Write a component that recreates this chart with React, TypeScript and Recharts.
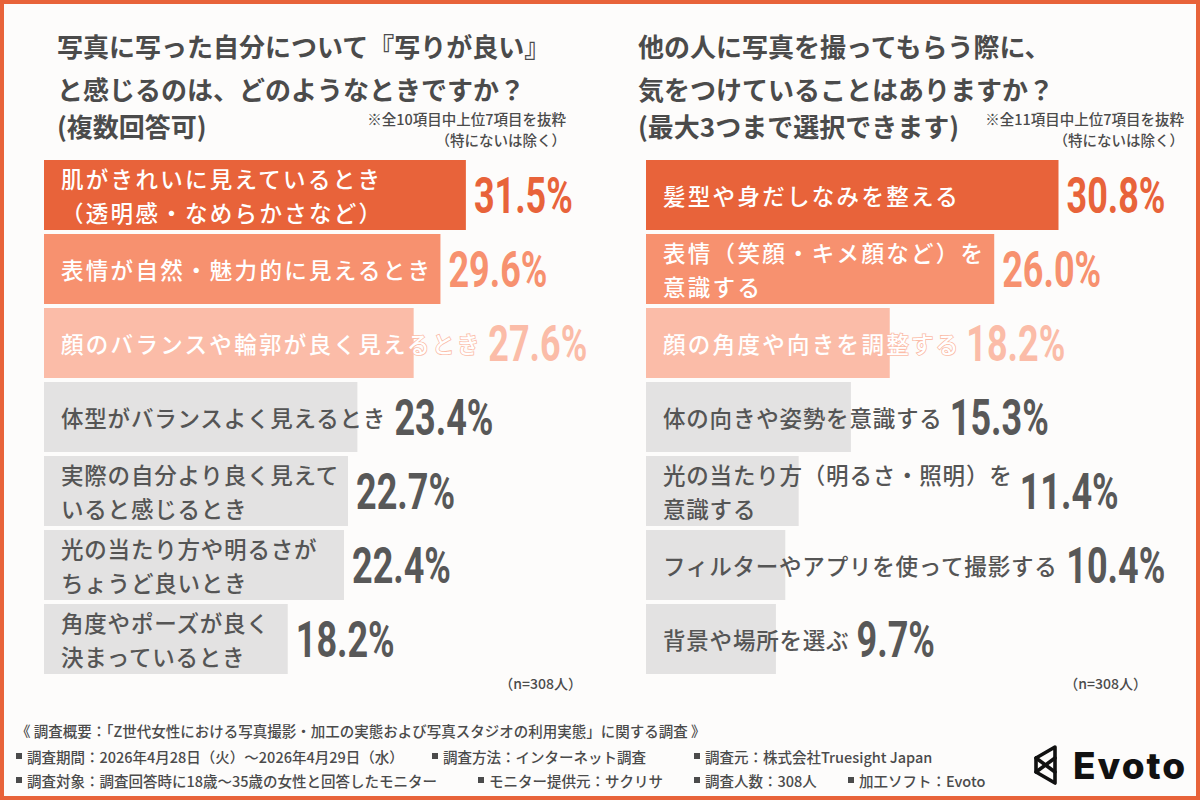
import React from 'react';
import { BarChart, Bar, XAxis, YAxis } from 'recharts';

// ---- survey data -------------------------------------------------------
const leftItems = [
  '肌がきれいに見えているとき\n（透明感・なめらかさなど）',
  '表情が自然・魅力的に見えるとき',
  '顔のバランスや輪郭が良く見えるとき',
  '体型がバランスよく見えるとき',
  '実際の自分より良く見えて\nいると感じるとき',
  '光の当たり方や明るさが\nちょうど良いとき',
  '角度やポーズが良く\n決まっているとき',
];
const leftValues = [31.5, 29.6, 27.6, 23.4, 22.7, 22.4, 18.2];

const rightItems = [
  '髪型や身だしなみを整える',
  '表情（笑顔・キメ顔など）を\n意識する',
  '顔の角度や向きを調整する',
  '体の向きや姿勢を意識する',
  '光の当たり方（明るさ・照明）を\n意識する',
  'フィルターやアプリを使って撮影する',
  '背景や場所を選ぶ',
];
const rightValues = [30.8, 26.0, 18.2, 15.3, 11.4, 10.4, 9.7];

const leftTitle = [
  '写真に写った自分について『写りが良い』',
  'と感じるのは、どのようなときですか？',
  '(複数回答可)',
];
const rightTitle = [
  '他の人に写真を撮ってもらう際に、',
  '気をつけていることはありますか？',
  '(最大3つまで選択できます)',
];
const leftNote = ['※全10項目中上位7項目を抜粋', '（特にないは除く）'];
const rightNote = ['※全11項目中上位7項目を抜粋', '（特にないは除く）'];
const sampleNote = '（n=308人）';

const footerHead = '《 調査概要：「Z世代女性における写真撮影・加工の実態および写真スタジオの利用実態」に関する調査 》';
const footerRow1 = [
  '調査期間：2026年4月28日（火）〜2026年4月29日（水）',
  '調査方法：インターネット調査',
  '調査元：株式会社Truesight Japan',
];
const footerRow2 = [
  '調査対象：調査回答時に18歳〜35歳の女性と回答したモニター',
  'モニター提供元：サクリサ',
  '調査人数：308人',
  '加工ソフト：Evoto',
];
const brandName = 'Evoto';

// ---- styling -----------------------------------------------------------
const ACCENT = '#E8633A';
const rankTones = ['#E8633A', '#F7916F', '#FBBCA8'];
const GREY_BAR = '#E3E2E2';
const INK = '#4B4B4B';
const JP = '"Noto Sans CJK JP", "Noto Sans", sans-serif';
const NUM = 'Roboto, "DejaVu Sans", sans-serif';

const AXIS_MAX = 44.8;
const CHART_W = 600;
const CHART_H = 518;
const BAR_H = 70;

const NAME_SIZE = 22.5;

type Row = { name: string; value: number };

const toRows = (names: string[], values: number[]): Row[] =>
  names.map((name, i) => ({ name, value: values[i] }));

function RowShape(props: any) {
  const { x, y, width, height, index, payload } = props;
  const ranked = index < rankTones.length;
  const tone = ranked ? rankTones[index] : GREY_BAR;
  const spacing = ranked ? 2.3 : 0.8;
  const lines: string[] = String(payload.name).split('\n');
  const tx = x + 17;
  const cy = y + height / 2;
  const lineGap = 34;
  const longest = Math.max(...lines.map((l) => l.length));
  const textEnd = tx + longest * (NAME_SIZE + spacing) - spacing;
  const valueX = Math.max(x + width, textEnd) + 8;
  return (
    <g>
      <rect x={x} y={y} width={width} height={height} fill={tone} />
      {lines.map((line, i) => (
        <text
          key={i}
          x={tx}
          y={cy + (i - (lines.length - 1) / 2) * lineGap}
          dominantBaseline="central"
          fontFamily={JP}
          fontWeight={500}
          fontSize={NAME_SIZE}
          letterSpacing={spacing}
          fill={ranked ? '#FFFFFF' : '#555555'}
          stroke={ranked ? tone : 'none'}
          strokeWidth={ranked ? 1.6 : 0}
          paintOrder="stroke"
        >
          {line}
        </text>
      ))}
      <text
        transform={`translate(${valueX},${cy + 1}) scale(0.72,1)`}
        x={0}
        y={0}
        dominantBaseline="central"
        fontFamily={NUM}
        fontWeight={700}
        fontSize={50}
        fill={ranked ? tone : '#585858'}
      >
        {`${payload.value.toFixed(1)}%`}
      </text>
    </g>
  );
}

function RankingChart({ rows }: { rows: Row[] }) {
  return (
    <BarChart
      layout="vertical"
      width={CHART_W}
      height={CHART_H}
      data={rows}
      margin={{ top: 0, right: 0, bottom: 0, left: 0 }}
    >
      <XAxis type="number" domain={[0, AXIS_MAX]} hide />
      <YAxis type="category" dataKey="name" hide />
      <Bar dataKey="value" barSize={BAR_H} isAnimationActive={false} shape={RowShape} />
    </BarChart>
  );
}

function TitleBlock({ x, lines }: { x: number; lines: string[] }) {
  const ys = [45, 88, 125];
  return (
    <g>
      {lines.map((t, i) => (
        <text
          key={i}
          x={x}
          y={ys[i]}
          dominantBaseline="central"
          fontFamily={JP}
          fontWeight={700}
          fontSize={26}
          fill={INK}
        >
          {t}
        </text>
      ))}
    </g>
  );
}

function NoteBlock({ right, lines }: { right: number; lines: string[] }) {
  const ys = [118, 139];
  return (
    <g>
      {lines.map((t, i) => (
        <text
          key={i}
          x={right}
          y={ys[i]}
          textAnchor="end"
          dominantBaseline="central"
          fontFamily={JP}
          fontWeight={500}
          fontSize={14.5}
          fill={INK}
        >
          {t}
        </text>
      ))}
    </g>
  );
}

function FooterItem({ x, y, text }: { x: number; y: number; text: string }) {
  return (
    <g>
      <rect x={x} y={y - 3} width={6} height={6} fill={INK} />
      <text
        x={x + 11}
        y={y}
        dominantBaseline="central"
        fontFamily={JP}
        fontWeight={500}
        fontSize={14.5}
        fill={INK}
      >
        {text}
      </text>
    </g>
  );
}

export default function App() {
  const row1X = [16, 432, 694];
  const row2X = [16, 478, 694, 848];
  return (
    <div
      style={{
        position: 'absolute',
        left: 0,
        top: 0,
        width: 1200,
        height: 800,
        overflow: 'hidden',
        background: '#FDFCFB',
      }}
    >
      <svg width={1200} height={800} style={{ position: 'absolute', left: 0, top: 0 }}>
        <TitleBlock x={57} lines={leftTitle} />
        <TitleBlock x={638} lines={rightTitle} />
        <NoteBlock right={566} lines={leftNote} />
        <NoteBlock right={1184} lines={rightNote} />

        <text x={582} y={683} textAnchor="end" dominantBaseline="central" fontFamily={JP} fontWeight={500} fontSize={14} fill={INK}>
          {sampleNote}
        </text>
        <text x={1147} y={683} textAnchor="end" dominantBaseline="central" fontFamily={JP} fontWeight={500} fontSize={14} fill={INK}>
          {sampleNote}
        </text>

        <text x={16} y={730} dominantBaseline="central" fontFamily={JP} fontWeight={500} fontSize={14.5} fill={INK}>
          {footerHead}
        </text>
        {footerRow1.map((t, i) => (
          <FooterItem key={t} x={row1X[i]} y={756} text={t} />
        ))}
        {footerRow2.map((t, i) => (
          <FooterItem key={t} x={row2X[i]} y={780} text={t} />
        ))}

        {/* brand mark */}
        <g fill="none" stroke="#111111" strokeWidth={3.6} strokeLinejoin="round" strokeLinecap="round">
          <path d="M1055,747 L1036,758 L1036,772 L1055,783 Z" />
          <path d="M1036,758 L1055,772" />
          <path d="M1036,772 L1055,758" />
        </g>
        <text x={1073} y={779} fontFamily="Inter, Lato, sans-serif" fontWeight={800} fontSize={37} letterSpacing={2} fill="#111111">
          {brandName}
        </text>
      </svg>

      <div style={{ position: 'absolute', left: 44, top: 158 }}>
        <RankingChart rows={toRows(leftItems, leftValues)} />
      </div>
      <div style={{ position: 'absolute', left: 646, top: 158 }}>
        <RankingChart rows={toRows(rightItems, rightValues)} />
      </div>

      <div
        style={{
          position: 'absolute',
          inset: 0,
          border: `4px solid ${ACCENT}`,
          boxSizing: 'border-box',
          pointerEvents: 'none',
        }}
      />
    </div>
  );
}
